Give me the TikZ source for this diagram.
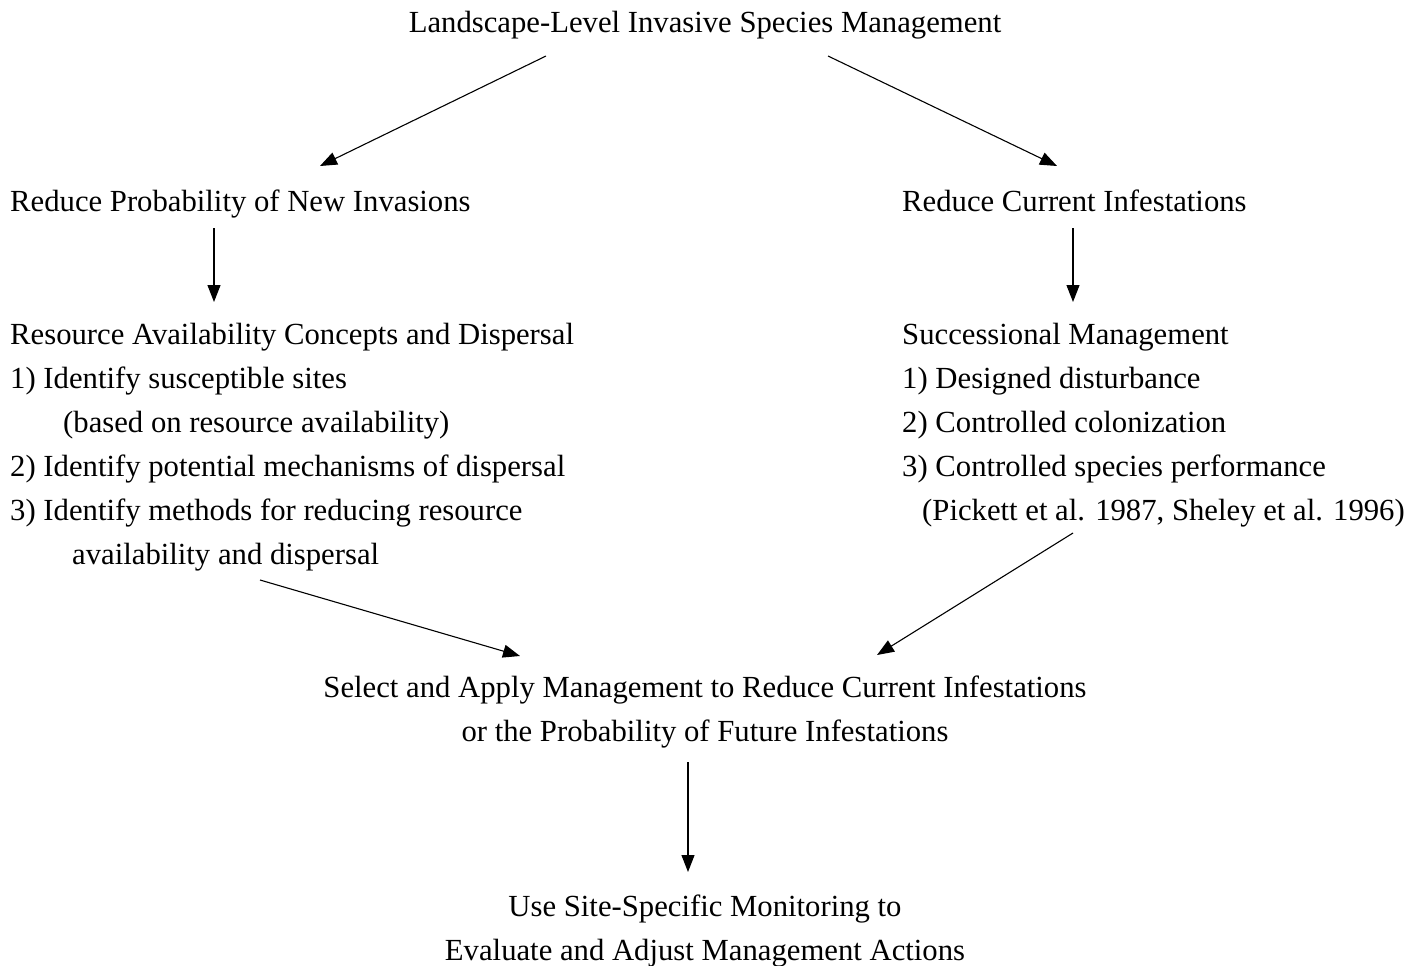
\documentclass[tikz,border=0pt]{standalone}
\usepackage{fontspec}
\setmainfont{Liberation Serif}
\usetikzlibrary{arrows.meta,calc}
\begin{document}
\begin{tikzpicture}[x=1pt,y=-1pt,
  txt/.style={inner sep=0pt,font=\fontsize{30.7}{44}\selectfont},
  arr/.style={line width=1.1pt,-{Triangle[length=17pt,width=13pt]}}]
\useasboundingbox (0,0) rectangle (1416,966);
\node[txt,anchor=base] (title) at (705,33) {Landscape-Level Invasive Species Management};
\node[txt,anchor=base west] (rpn) at (10,211) {Reduce Probability of New Invasions};
\node[txt,anchor=base west] (rci) at (902,211) {Reduce Current Infestations};
\node[txt,anchor=base west,align=left] (rac) at (10,564) {Resource Availability Concepts and Dispersal\\
1) Identify susceptible sites\\
\hspace*{53pt}(based on resource availability)\\
2) Identify potential mechanisms of dispersal\\
3) Identify methods for reducing resource\\
\hspace*{62pt}availability and dispersal};
\node[txt,anchor=base west,align=left] (sm) at (902,520) {Successional Management\\
1) Designed disturbance\\
2) Controlled colonization\\
3) Controlled species performance\\
\hspace*{20pt}(Pickett et al. 1987, Sheley et al. 1996)};
\node[txt,anchor=base,align=center] (sel) at (705,741) {Select and Apply Management to Reduce Current Infestations\\
or the Probability of Future Infestations};
\node[txt,anchor=base,align=center] (use) at (705,960) {Use Site-Specific Monitoring to\\
Evaluate and Adjust Management Actions};
\draw[arr] ($(title.base)+(-159,23)$) -- ($(rpn.base west)+(310,-45)$);
\draw[arr] ($(title.base)+(123,23)$) -- ($(rci.base west)+(155,-45)$);
\draw[arr] ($(rpn.base west)+(204,17)$) -- ($(rac.base west)+(204,-262)$);
\draw[arr] ($(rci.base west)+(171,17)$) -- ($(sm.base west)+(171,-218)$);
\draw[arr] ($(rac.base west)+(250,16)$) -- ($(sel.base)+(-185,-85)$);
\draw[arr] ($(sm.base west)+(171,13)$) -- ($(sel.base)+(172,-86)$);
\draw[arr] ($(sel.base)+(-17,21)$) -- ($(use.base)+(-17,-88)$);
\end{tikzpicture}
\end{document}
